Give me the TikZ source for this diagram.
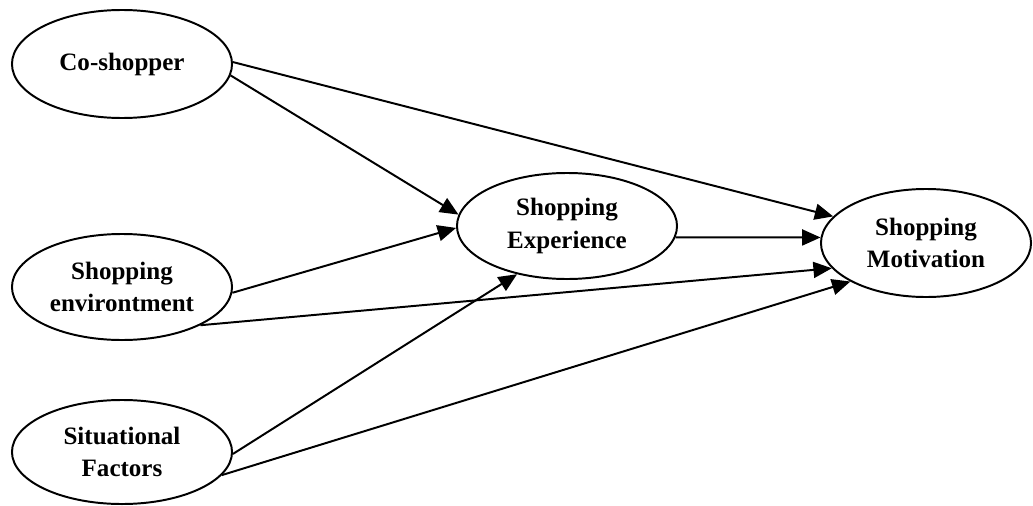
\documentclass[tikz,border=0pt]{standalone}
\usepackage{fontspec}
\setmainfont{Liberation Serif}
\usepackage{tikz}
\usetikzlibrary{positioning,shapes,arrows.meta}

\begin{document}
\begin{tikzpicture}[x=0.025cm, y=-0.025cm,
		construct/.style={ellipse, draw, line width=1.4pt, inner sep=0pt, align=center,
			font=\fontsize{17.8}{23}\selectfont\bfseries},
		link/.style={-{Triangle[length=0.46cm, width=0.4cm]}, line width=1.4pt}]
				\useasboundingbox (0, 0) rectangle (1033, 506);
				\node[construct, minimum width=5.5cm, minimum height=2.7cm] (C1) at (122, 64) {Co-shopper};
				\node[construct, minimum width=5.5cm, minimum height=2.65cm] (E1) at (122, 287) {Shopping\\environtment};
				\node[construct, minimum width=5.5cm, minimum height=2.6cm] (S1) at (122, 452) {Situational\\Factors};
				\node[construct, minimum width=5.5cm, minimum height=2.65cm] (X1) at (567, 226) {Shopping\\Experience};
				\node[construct, minimum width=5.25cm, minimum height=2.7cm] (M1) at (926, 243) {Shopping\\Motivation};
				\draw[link] (C1.-6.3) -- (X1.174.3);
				\draw[link] (C1.1.6) -- (M1.164.4);
				\draw[link] (E1.-3.1) -- (X1.181.6);
				\draw[link] (E1.-26.6) -- (M1.195.2);
				\draw[link] (S1.-1.6) -- (X1.224.4);
				\draw[link] (S1.-13.6) -- (M1.207.5);
				\draw[link] (X1.-6.3) -- (M1.177.9);
			\end{tikzpicture}
\end{document}
